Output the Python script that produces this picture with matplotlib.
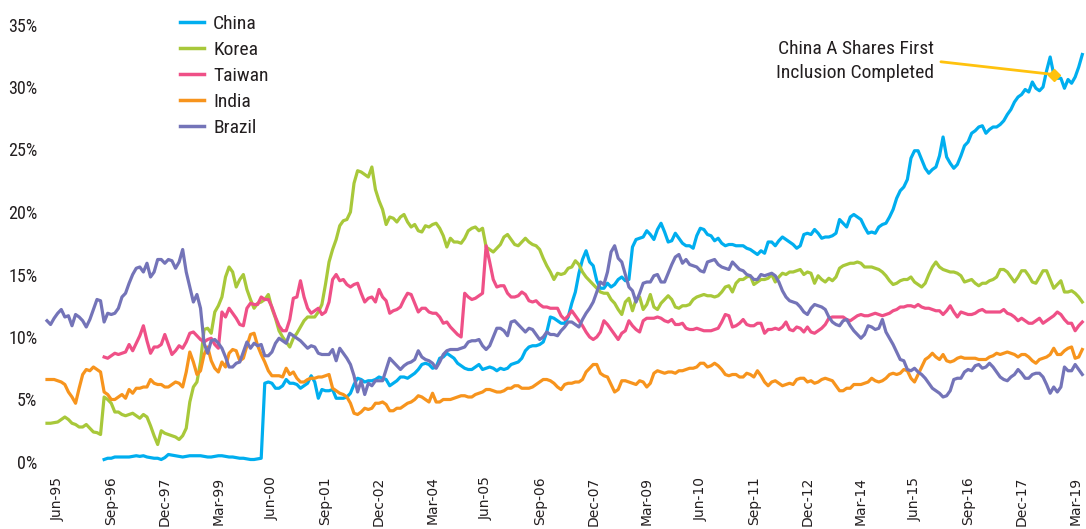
import matplotlib
matplotlib.use("Agg")
import matplotlib.pyplot as plt
from matplotlib import font_manager
import numpy as np

# monthly weights (%) from Mar-95 to May-19
brazil = [
    11.3, 11.0, 11.5, 11.9, 12.2, 11.6, 11.7, 10.9, 11.8, 11.6,
    11.3, 10.8, 11.4, 12.2, 13.0, 12.9, 11.2, 11.9, 11.8, 11.9,
    12.3, 13.2, 13.5, 14.3, 15.0, 15.5, 15.6, 15.2, 15.9, 14.8,
    15.2, 16.2, 16.2, 15.9, 16.2, 16.1, 15.5, 16.0, 17.0, 15.2,
    14.0, 12.8, 13.4, 12.3, 9.5, 8.7, 9.7, 9.8, 9.5, 9.1,
    8.4, 7.6, 7.6, 7.9, 8.0, 8.8, 9.6, 9.1, 9.5, 9.3,
    9.4, 8.5, 8.5, 8.8, 9.5, 9.9, 9.7, 9.5, 10.3, 10.1,
    9.9, 9.7, 9.4, 9.1, 9.3, 9.2, 8.7, 8.6, 8.6, 8.6,
    9.0, 8.1, 9.1, 8.7, 8.3, 7.8, 6.9, 5.6, 6.5, 5.4,
    6.3, 6.1, 6.5, 6.5, 6.5, 7.4, 8.3, 8.0, 7.7, 7.4,
    7.7, 7.9, 8.0, 8.2, 8.9, 8.4, 8.2, 8.1, 7.9, 7.5,
    8.0, 8.6, 8.9, 9.0, 9.0, 9.0, 9.1, 9.2, 9.6, 9.7,
    9.7, 9.8, 9.3, 9.0, 9.3, 10.0, 10.7, 10.7, 10.5, 10.1,
    11.2, 11.3, 11.0, 10.7, 10.4, 10.7, 10.6, 10.2, 9.8, 10.0,
    10.4, 10.2, 10.2, 10.1, 10.5, 10.8, 11.2, 11.2, 11.0, 10.8,
    11.4, 11.9, 12.3, 12.8, 13.6, 14.4, 14.2, 15.2, 16.8, 17.3,
    16.3, 16.0, 15.0, 14.0, 13.7, 12.8, 13.5, 14.3, 14.4, 14.4,
    14.9, 15.0, 14.4, 14.4, 15.1, 15.8, 16.4, 16.6, 15.9, 16.2,
    15.8, 15.7, 15.6, 15.3, 15.2, 16.0, 16.1, 16.2, 15.8, 15.6,
    15.5, 15.4, 16.0, 15.7, 15.4, 15.3, 15.0, 14.9, 14.6, 14.6,
    15.0, 14.9, 15.0, 15.1, 14.9, 14.4, 13.7, 13.2, 12.9, 12.8,
    12.7, 12.4, 12.0, 11.8, 12.3, 12.6, 12.5, 12.4, 12.2, 11.6,
    11.2, 11.0, 10.9, 11.3, 11.4, 10.9, 10.5, 10.2, 9.9, 10.2,
    10.9, 10.8, 10.6, 10.7, 11.4, 10.4, 9.9, 9.4, 8.8, 8.2,
    8.1, 7.4, 7.3, 7.5, 7.2, 7.0, 6.7, 6.3, 5.9, 5.7,
    5.5, 5.2, 5.3, 5.7, 6.6, 6.7, 6.7, 7.2, 7.4, 7.3,
    7.7, 7.8, 7.5, 7.6, 7.9, 7.6, 7.2, 6.8, 6.6, 6.5,
    6.8, 7.0, 7.4, 7.1, 6.7, 6.7, 7.0, 7.1, 7.1, 6.8,
    6.2, 5.5, 6.0, 5.6, 6.0, 7.6, 7.3, 7.3, 7.8, 7.4, 7.0,
]

korea = [
    3.1, 3.1, 3.15, 3.2, 3.4, 3.6, 3.4, 3.1, 3.0, 2.8,
    2.8, 3.0, 2.7, 2.4, 2.35, 2.2, 5.2, 5.0, 4.7, 4.0,
    4.0, 3.8, 3.7, 3.8, 3.9, 3.7, 3.5, 3.8, 3.6, 2.9,
    2.1, 1.4, 2.5, 2.3, 2.2, 2.1, 2.0, 1.8, 2.1, 2.7,
    4.8, 6.0, 6.4, 8.0, 10.6, 10.7, 10.3, 12.0, 12.5, 13.2,
    14.8, 15.6, 15.2, 14.0, 14.6, 15.0, 13.8, 13.0, 12.3, 12.7,
    12.8, 13.0, 13.4, 12.3, 11.5, 10.5, 10.0, 9.6, 9.2, 9.9,
    10.3, 10.8, 11.3, 11.6, 11.6, 11.6, 12.0, 12.6, 14.2, 16.0,
    17.0, 17.8, 18.9, 19.3, 19.4, 20.0, 22.3, 23.3, 23.2, 23.0,
    22.8, 23.6, 21.8, 20.9, 20.2, 19.0, 19.6, 19.5, 19.2, 19.6,
    19.8, 19.2, 18.8, 19.0, 18.5, 18.4, 18.9, 18.8, 19.0, 19.1,
    18.7, 18.1, 17.2, 17.9, 17.6, 17.6, 17.5, 17.9, 18.5, 18.7,
    18.8, 18.5, 18.7, 17.2, 17.0, 16.8, 17.1, 17.4, 18.0, 18.2,
    17.8, 17.4, 17.3, 17.6, 17.9, 17.6, 17.4, 17.3, 17.0, 16.3,
    15.7, 15.2, 14.6, 15.1, 15.0, 15.1, 15.5, 15.6, 16.1, 15.8,
    15.2, 14.8, 14.5, 14.2, 13.9, 13.6, 13.5, 13.5, 13.0, 12.7,
    12.2, 11.8, 12.8, 13.1, 12.1, 13.0, 13.2, 12.2, 12.6, 13.4,
    12.4, 12.2, 12.7, 13.0, 13.3, 13.0, 12.4, 12.3, 12.5, 12.5,
    12.6, 13.0, 13.2, 13.3, 13.4, 13.3, 13.3, 13.2, 13.3, 13.6,
    14.0, 14.1, 13.6, 14.3, 14.6, 14.6, 14.8, 14.9, 14.2, 14.4,
    14.6, 14.6, 14.7, 15.0, 14.4, 14.8, 15.1, 15.0, 15.2, 15.2,
    15.3, 15.4, 15.0, 15.2, 15.1, 14.3, 14.9, 14.6, 14.4, 14.7,
    14.5, 14.8, 15.5, 15.7, 15.8, 15.9, 15.9, 16.0, 15.9, 15.6,
    15.6, 15.6, 15.5, 15.4, 15.2, 14.9, 14.5, 14.2, 14.3, 14.5,
    14.6, 14.6, 14.8, 14.4, 14.2, 14.0, 14.3, 15.0, 15.6, 16.0,
    15.6, 15.4, 15.3, 15.2, 15.2, 15.1, 14.9, 14.4, 14.5, 14.6,
    14.3, 14.1, 14.3, 14.3, 14.5, 14.6, 14.8, 15.4, 15.4, 15.2,
    14.8, 14.4, 14.8, 15.3, 15.3, 14.9, 14.4, 14.3, 14.8, 15.3,
    15.3, 14.6, 13.9, 14.2, 14.5, 13.6, 13.6, 13.7, 13.5, 13.2, 12.8,
]

india = [
    6.6, 6.6, 6.6, 6.5, 6.4, 6.2, 5.6, 5.2, 4.7, 5.9,
    7.0, 7.4, 7.3, 7.6, 7.4, 7.2, 5.6, 5.4, 5.0, 5.0,
    5.2, 5.4, 5.1, 5.8, 5.5, 5.9, 5.9, 6.0, 6.0, 6.6,
    6.3, 6.2, 6.2, 6.0, 6.0, 6.2, 6.4, 6.3, 6.0, 7.2,
    8.8, 8.0, 7.0, 7.3, 8.6, 9.2, 8.1, 7.5, 7.2, 8.0,
    7.6, 8.7, 9.0, 8.9, 8.1, 8.3, 9.3, 10.2, 10.3, 9.3,
    8.6, 8.0, 7.3, 6.9, 6.9, 6.9, 6.8, 7.5, 7.0, 7.2,
    6.7, 6.4, 6.4, 6.6, 6.7, 6.7, 6.8, 6.8, 6.9, 7.0,
    5.9, 5.7, 5.5, 5.4, 5.2, 4.7, 3.9, 3.8, 4.0, 4.3,
    4.2, 4.3, 4.7, 4.7, 4.8, 4.6, 4.1, 4.1, 4.3, 4.3,
    4.5, 4.7, 4.8, 5.0, 5.3, 5.2, 5.0, 4.8, 5.5, 4.8,
    4.8, 5.0, 5.0, 5.0, 5.1, 5.2, 5.3, 5.3, 5.2, 5.2,
    5.4, 5.5, 5.6, 5.8, 5.8, 5.7, 5.6, 5.6, 5.7, 5.9,
    5.9, 6.1, 6.1, 5.9, 5.9, 5.9, 6.0, 6.2, 6.4, 6.6,
    6.6, 6.5, 6.3, 6.0, 5.8, 6.2, 6.3, 6.3, 6.4, 6.4,
    6.6, 7.2, 7.5, 7.8, 7.8, 7.1, 6.9, 6.8, 6.2, 5.6,
    5.8, 6.5, 6.5, 6.4, 6.3, 6.2, 6.5, 6.4, 6.0, 6.3,
    7.1, 7.3, 7.2, 7.1, 7.2, 7.2, 7.1, 7.3, 7.3, 7.4,
    7.5, 7.5, 7.6, 7.9, 7.9, 7.6, 7.7, 7.9, 7.7, 7.4,
    7.0, 6.9, 7.0, 7.0, 6.8, 6.8, 7.1, 7.0, 6.8, 7.3,
    6.9, 6.4, 6.1, 6.4, 6.5, 6.3, 6.1, 6.2, 6.3, 6.2,
    6.6, 6.7, 6.7, 6.4, 6.5, 6.3, 6.4, 6.6, 6.7, 6.6,
    6.5, 6.1, 5.7, 5.7, 5.9, 5.9, 6.2, 6.2, 6.2, 6.3,
    6.4, 6.7, 6.5, 6.4, 6.5, 6.7, 7.0, 7.1, 7.0, 7.1,
    7.4, 7.3, 6.7, 6.4, 7.0, 7.6, 8.2, 8.4, 8.7, 8.4,
    8.2, 8.6, 8.1, 8.0, 8.1, 8.3, 8.4, 8.3, 8.3, 8.3,
    8.3, 8.2, 8.2, 8.2, 8.4, 8.5, 8.7, 8.6, 8.7, 8.8,
    8.7, 8.6, 8.4, 8.6, 8.6, 8.4, 8.1, 7.9, 8.2, 8.3,
    8.4, 8.6, 9.1, 8.6, 8.6, 8.9, 9.1, 9.2, 8.3, 8.4, 9.0,
]

# China and Taiwan start in Jul-96 (month 16)
late_start = 16
china = [
    0.2, 0.3, 0.3, 0.4,
    0.4, 0.4, 0.4, 0.4, 0.45, 0.5, 0.45, 0.5, 0.4, 0.35,
    0.3, 0.3, 0.2, 0.35, 0.6, 0.55, 0.5, 0.45, 0.4, 0.45,
    0.5, 0.5, 0.5, 0.5, 0.45, 0.4, 0.4, 0.45, 0.5, 0.5,
    0.45, 0.4, 0.4, 0.35, 0.3, 0.3, 0.25, 0.2, 0.2, 0.25,
    0.3, 6.3, 6.4, 6.3, 5.9, 5.9, 6.1, 6.6, 6.3, 6.3,
    6.2, 5.9, 6.1, 6.3, 6.9, 6.4, 5.1, 5.8, 5.7, 5.7,
    5.8, 5.1, 5.1, 5.1, 5.2, 5.5, 6.2, 6.7, 6.6, 6.4,
    6.5, 6.5, 6.6, 6.8, 6.7, 6.6, 6.1, 6.3, 6.5, 6.8,
    6.8, 6.7, 6.9, 7.1, 7.4, 7.8, 7.9, 7.8, 7.5, 7.6,
    8.3, 8.4, 8.7, 8.5, 8.3, 7.9, 7.7, 7.5, 7.4, 7.4,
    7.6, 7.8, 7.4, 7.5, 7.6, 7.5, 7.3, 7.5, 7.4, 7.5,
    7.8, 7.9, 8.0, 8.3, 8.9, 9.2, 9.3, 9.3, 9.4, 9.6,
    10.4, 11.6, 11.5, 11.3, 11.1, 11.1, 11.6, 12.7, 13.6, 15.1,
    16.2, 16.9, 16.0, 15.7, 14.5, 13.9, 13.9, 14.3, 14.0, 14.2,
    14.6, 14.8, 14.5, 14.6, 17.2, 17.8, 17.9, 18.0, 18.5, 18.2,
    17.8, 18.6, 19.1, 18.4, 17.6, 17.7, 18.3, 17.9, 17.5, 17.3,
    17.3, 17.1, 18.1, 18.7, 18.6, 18.2, 18.1, 17.7, 17.9, 17.5,
    17.3, 17.4, 17.4, 17.3, 17.3, 17.3, 17.1, 17.0, 16.8, 16.6,
    16.9, 16.7, 17.6, 17.6, 17.3, 17.7, 18.0, 17.8, 17.6, 17.4,
    17.1, 17.3, 18.2, 18.3, 18.2, 18.6, 18.3, 17.9, 18.0, 18.0,
    18.1, 18.3, 19.4, 19.1, 18.8, 19.6, 19.8, 19.6, 19.4, 18.8,
    18.3, 18.4, 18.3, 18.8, 19.0, 19.1, 19.6, 20.2, 21.1, 21.7,
    22.0, 22.6, 24.3, 24.9, 24.9, 24.2, 23.5, 23.1, 23.4, 23.6,
    24.5, 26.0, 24.4, 23.9, 23.5, 23.8, 24.5, 25.3, 25.6, 26.3,
    26.5, 26.8, 26.9, 26.3, 26.6, 26.8, 26.8, 27.0, 27.3, 27.8,
    28.2, 28.8, 29.2, 29.4, 29.8, 29.6, 30.4, 29.9, 29.7, 30.0,
    31.3, 32.4, 31.0, 30.7, 30.7, 29.9, 30.6, 30.3, 30.8, 31.6, 32.6,
]

taiwan = [
    8.4, 8.3, 8.5, 8.7,
    8.6, 8.7, 8.8, 9.4, 8.9, 9.5, 10.1, 10.9, 9.7, 8.7,
    9.2, 9.2, 9.4, 10.2, 9.4, 8.6, 8.9, 9.3, 9.1, 9.6,
    10.3, 10.4, 10.1, 9.8, 9.6, 9.8, 9.9, 9.4, 9.1, 12.0,
    11.6, 12.3, 11.9, 11.5, 11.0, 10.9, 12.3, 12.7, 12.6, 12.6,
    13.2, 13.0, 13.0, 12.4, 11.6, 10.9, 10.5, 10.5, 11.4, 13.1,
    13.2, 14.5, 13.2, 12.3, 11.9, 12.1, 12.3, 11.8, 12.0, 12.8,
    14.6, 15.0, 14.5, 14.6, 14.2, 14.0, 14.2, 14.3, 13.5, 12.8,
    13.1, 13.2, 12.8, 13.8, 13.2, 12.9, 11.9, 12.1, 12.2, 12.4,
    13.0, 13.5, 13.4, 12.7, 12.0, 12.3, 12.3, 12.0, 11.9, 11.9,
    11.6, 11.1, 11.2, 10.8, 10.5, 10.2, 10.0, 13.5, 13.2, 13.0,
    13.1, 13.3, 13.5, 17.3, 16.0, 14.6, 14.0, 14.1, 14.1, 13.5,
    13.2, 13.2, 13.3, 13.6, 13.4, 12.9, 12.8, 12.9, 12.6, 12.4,
    12.4, 12.3, 12.3, 12.3, 11.7, 11.4, 11.7, 12.1, 11.7, 11.3,
    10.9, 10.4, 10.0, 9.8, 10.0, 10.4, 11.3, 11.0, 10.6, 10.2,
    9.8, 10.3, 10.5, 11.3, 10.9, 10.6, 10.4, 11.3, 11.5, 11.5,
    11.5, 11.6, 11.5, 11.3, 11.2, 11.4, 11.0, 11.0, 11.1, 10.7,
    10.6, 10.6, 10.7, 10.6, 10.5, 10.5, 10.5, 10.6, 10.7, 11.2,
    11.8, 11.7, 10.8, 10.9, 11.1, 11.4, 11.0, 10.9, 10.9, 11.1,
    11.1, 10.3, 10.6, 10.6, 10.7, 10.6, 10.8, 11.2, 10.6, 10.5,
    10.8, 10.7, 10.4, 10.8, 10.4, 10.3, 10.5, 10.7, 11.0, 11.5,
    11.6, 11.6, 11.6, 11.6, 11.4, 11.3, 11.5, 11.7, 11.8, 11.7,
    11.7, 11.8, 11.9, 11.8, 11.7, 11.8, 11.9, 12.1, 12.2, 12.4,
    12.4, 12.5, 12.5, 12.4, 12.6, 12.4, 12.3, 12.3, 12.2, 12.1,
    12.1, 11.8, 12.1, 12.5, 12.0, 11.6, 12.0, 11.9, 11.8, 11.8,
    11.9, 12.1, 12.2, 12.0, 12.0, 12.0, 12.0, 12.0, 12.2, 11.9,
    11.8, 11.6, 11.3, 11.5, 11.3, 11.1, 11.1, 11.3, 11.5, 11.1,
    11.3, 11.5, 11.7, 12.0, 11.8, 11.4, 11.1, 11.1, 10.5, 10.9, 11.2,
]

tick_months = list(range(3, 291, 15))
tick_labels = ["Jun-95", "Sep-96", "Dec-97", "Mar-99", "Jun-00", "Sep-01", "Dec-02",
               "Mar-04", "Jun-05", "Sep-06", "Dec-07", "Mar-09", "Jun-10", "Sep-11",
               "Dec-12", "Mar-14", "Jun-15", "Sep-16", "Dec-17", "Mar-19"]

note_text = "China A Shares First\nInclusion Completed"
note_month = 282

colors = {
    "China": "#00AEEF",
    "Korea": "#A8C83A",
    "Taiwan": "#EF5087",
    "India": "#F7941D",
    "Brazil": "#7474B8",
}
text_color = "#231F20"

# narrowest face that is actually installed
installed = {f.name for f in font_manager.fontManager.ttflist}
narrow_name = next((f for f in ["Liberation Sans Narrow", "Roboto Condensed", "Roboto"]
                    if f in installed), "DejaVu Sans")
narrow = [narrow_name, "DejaVu Sans"]

W, H = 1086, 529
fig = plt.figure(figsize=(W / 100, H / 100), dpi=100)
ax = fig.add_axes([47 / W, 1 - 462 / H, (1082.3 - 47) / W, (462 - 24.5) / H])

x_full = np.arange(len(brazil))
x_late = np.arange(late_start, late_start + len(china))

series = [
    ("China", x_late, china),
    ("Korea", x_full, korea),
    ("Taiwan", x_late, taiwan),
    ("India", x_full, india),
    ("Brazil", x_full, brazil),
]
for name, xs, ys in series:
    ax.plot(xs, ys, color=colors[name], lw=2.3, label=name, clip_on=False,
            solid_joinstyle="round")

ax.set_xlim(0, len(brazil) - 1)
ax.set_ylim(0, 35)
ax.set_yticks(range(0, 36, 5))
ax.set_yticklabels([f"{v}%" for v in range(0, 36, 5)], family=narrow,
                   fontsize=13, color=text_color)
ax.set_xticks(tick_months)
ax.set_xticklabels(tick_labels, rotation=90, fontsize=10, color=text_color,
                   va="top", ha="center")
ax.tick_params(axis="both", length=0)
ax.tick_params(axis="y", pad=7)
ax.tick_params(axis="x", pad=10.5)
for s in ax.spines.values():
    s.set_visible(False)

leg = ax.legend(loc="upper left", bbox_to_anchor=(180 / W, 1 - 15 / H),
                bbox_transform=fig.transFigure, frameon=False,
                prop={"family": narrow, "size": 14}, handlelength=1.25,
                handletextpad=0.45, labelspacing=0.41, borderpad=0, borderaxespad=0)
for t in leg.get_texts():
    t.set_color(text_color)
for line in leg.get_lines():
    line.set_linewidth(2.5)

# annotation for the first A-share inclusion
note_y = china[note_month - late_start]
ax.annotate(note_text, xy=(note_month, note_y), xycoords="data",
            xytext=(934, H - 61), textcoords="figure pixels",
            ha="right", va="center", fontsize=14, family=narrow, color=text_color,
            linespacing=1.45,
            arrowprops=dict(arrowstyle="-", color="#FFC20E", lw=2,
                            shrinkA=3, shrinkB=0, relpos=(1, 0.5)))
ax.plot([note_month], [note_y], marker="D", ms=6, color="#FFC20E", clip_on=False)

fig.savefig("out.png", dpi=100)
